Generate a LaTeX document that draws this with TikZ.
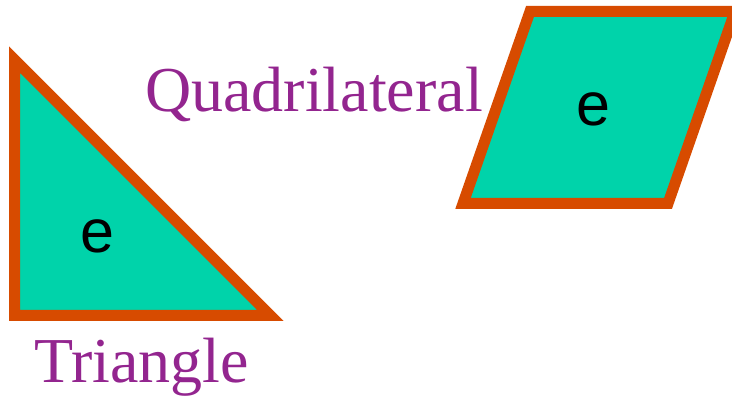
\documentclass[tikz,border=0pt]{standalone}
\usepackage{fontspec}
\setmainfont{Liberation Serif}
\newfontfamily\lettersans{Liberation Sans}

\definecolor{tilefill}{RGB}{0,211,170}
\definecolor{tileedge}{RGB}{215,75,0}
\definecolor{namepurple}{RGB}{147,37,143}

\tikzset{
  tile/.style={draw=tileedge, fill=tilefill, line width=11pt, line join=miter},
  shapename/.style={text=namepurple, font=\fontsize{64}{70}\selectfont, inner sep=0pt, anchor=base west},
  letter/.style={font=\lettersans\fontsize{61}{66}\selectfont, inner sep=0pt}
}

\begin{document}
\begin{tikzpicture}[x=1pt,y=-1pt]
\useasboundingbox (0,0) rectangle (732,398);

  % Triangle
  \coordinate (t1) at (14.5,59.7);
  \coordinate (t2) at (14.5,315.5);
  \coordinate (t3) at (270.3,315.5);
  \draw[tile] (t1) -- (t2) -- (t3) -- cycle;
  \node[letter] (te) at (97.5,236.5) {e};
  \node[shapename] (tname) at (34,383) {Triangle};

  % Quadrilateral
  \coordinate (q1) at (530,11.5);
  \coordinate (q2) at (735,11.5);
  \coordinate (q3) at (668,203.5);
  \coordinate (q4) at (463,203.5);
  \draw[tile] (q1) -- (q2) -- (q3) -- (q4) -- cycle;
  \node[letter] (qe) at (593,109) {e};
  \node[shapename] (qname) at (145,112) {Quadrilateral};
\end{tikzpicture}
\end{document}
